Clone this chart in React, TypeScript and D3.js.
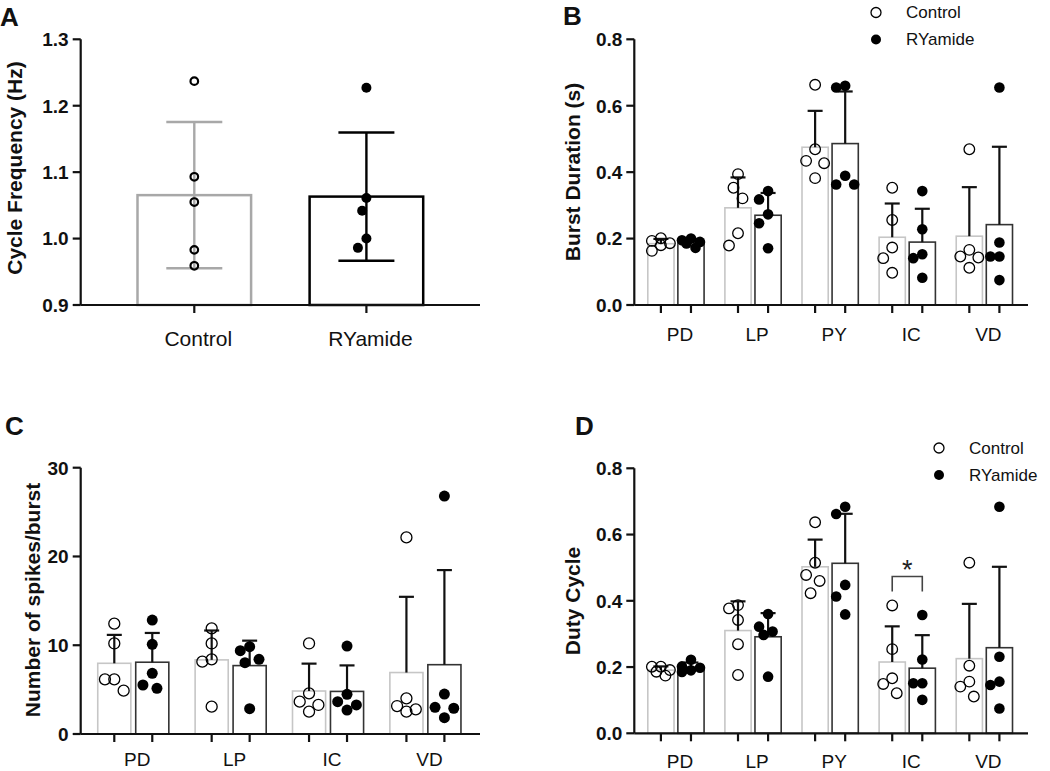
import React from "react";
import * as d3 from "d3";

const FONT = "Arial, 'Liberation Sans', Helvetica, sans-serif";

// A: cycle frequency (Hz)
const freqGroups = ["Control", "RYamide"];
const freqControl = [1.237, 1.093, 1.055, 0.983, 0.959];
const freqRyamide = [1.227, 1.061, 1.042, 1.0, 0.986];
const freqTicks = [0.9, 1.0, 1.1, 1.2, 1.3];

// B: burst duration (s)
const burstNeurons = ["PD", "LP", "PY", "IC", "VD"];
const burstControl = [
  [0.201, 0.193, 0.186, 0.18, 0.163],
  [0.394, 0.353, 0.321, 0.216, 0.179],
  [0.663, 0.469, 0.434, 0.427, 0.382],
  [0.353, 0.256, 0.173, 0.141, 0.097],
  [0.469, 0.166, 0.146, 0.143, 0.112],
];
const burstRyamide = [
  [0.2, 0.195, 0.19, 0.185, 0.172],
  [0.343, 0.318, 0.273, 0.246, 0.171],
  [0.66, 0.655, 0.389, 0.363, 0.363],
  [0.343, 0.228, 0.153, 0.141, 0.082],
  [0.655, 0.188, 0.146, 0.146, 0.075],
];
const burstTicks = [0, 0.2, 0.4, 0.6, 0.8];

// C: spikes per burst
const spikeNeurons = ["PD", "LP", "IC", "VD"];
const spikeControl = [
  [12.43, 10.2, 6.16, 6.16, 4.88],
  [11.9, 10.2, 8.41, 8.15, 3.08],
  [10.2, 4.58, 3.64, 3.27, 2.52],
  [22.15, 4.02, 3.15, 2.78, 2.52],
];
const spikeRyamide = [
  [12.84, 10.1, 6.83, 5.52, 5.14],
  [9.84, 9.39, 8.41, 8.04, 2.85],
  [9.91, 4.47, 3.64, 3.27, 2.7],
  [26.8, 4.5, 3.0, 2.9, 1.84],
];
const spikeTicks = [0, 10, 20, 30];

// D: duty cycle
const dutyNeurons = ["PD", "LP", "PY", "IC", "VD"];
const dutyControl = [
  [0.201, 0.201, 0.191, 0.186, 0.174],
  [0.387, 0.377, 0.342, 0.269, 0.176],
  [0.637, 0.515, 0.478, 0.46, 0.423],
  [0.386, 0.254, 0.166, 0.149, 0.121],
  [0.515, 0.204, 0.156, 0.141, 0.111],
];
const dutyRyamide = [
  [0.222, 0.202, 0.198, 0.19, 0.185],
  [0.36, 0.322, 0.307, 0.297, 0.171],
  [0.684, 0.662, 0.448, 0.413, 0.359],
  [0.357, 0.223, 0.151, 0.151, 0.101],
  [0.684, 0.231, 0.156, 0.146, 0.075],
];
const dutyTicks = [0, 0.2, 0.4, 0.6, 0.8];
const dutySignificant = ["IC"];

const conditions = ["Control", "RYamide"];

// simple beeswarm: spread points that sit too close to each other
function swarm(values: number[], y: (v: number) => number, r: number) {
  const placed: { x: number; y: number }[] = [];
  const out: { dx: number; y: number }[] = new Array(values.length);
  const order = values.map((_, i) => i).sort((a, b) => values[b] - values[a]);
  const dmin = r * 2.6;
  const step = r * 0.85;
  for (const i of order) {
    const py = y(values[i]);
    let best = 0;
    let bestDist = -1;
    for (let k = 0; k <= 4; k++) {
      const dx = k === 0 ? 0 : Math.ceil(k / 2) * step * (k % 2 ? -1 : 1);
      const d = placed.length
        ? d3.min(placed, (p) => Math.hypot(p.x - dx, p.y - py))!
        : Infinity;
      if (d >= dmin) {
        best = dx;
        bestDist = d;
        break;
      }
      if (d > bestDist) {
        bestDist = d;
        best = dx;
      }
    }
    placed.push({ x: best, y: py });
    out[i] = { dx: best, y: py };
  }
  return out;
}

function YAxis({ left, y, ticks, fmt, size }) {
  const [y0, y1] = y.range();
  return (
    <g>
      <line x1={left} x2={left} y1={y0} y2={y1} stroke="#111" strokeWidth={2.2} />
      {ticks.map((t) => (
        <g key={t}>
          <line x1={left - 8} x2={left} y1={y(t)} y2={y(t)} stroke="#111" strokeWidth={2.2} />
          <text
            x={left - 12}
            y={y(t)}
            dy="0.36em"
            textAnchor="end"
            fontSize={size}
            fontWeight="bold"
            fill="#111"
          >
            {fmt(t)}
          </text>
        </g>
      ))}
    </g>
  );
}

function GroupPanel({ left, right, top, bottom, domain, ticks, fmt, groups, control, ryamide, radius, labelGap, significant = [] }) {
  const x = d3.scalePoint().domain(groups).range([left, right]).padding(0.54);
  const step = x.step();
  const inner = d3.scalePoint().domain(conditions).range([-step * 0.195, step * 0.195]);
  const barW = step * 0.34;
  const y = d3.scaleLinear().domain(domain).range([bottom, top]);

  const series = [
    { key: "Control", data: control, barStroke: "#c6c6c6", open: true },
    { key: "RYamide", data: ryamide, barStroke: "#333", open: false },
  ];

  return (
    <g>
      {series.map((s) =>
        groups.map((g, gi) => {
          const vals = s.data[gi];
          const m = d3.mean(vals);
          const sd = d3.deviation(vals);
          const cx = x(g) + inner(s.key);
          const pts = swarm(vals, y, radius);
          return (
            <g key={s.key + g}>
              <rect
                x={cx - barW / 2}
                y={y(m)}
                width={barW}
                height={bottom - y(m)}
                fill="#fff"
                stroke={s.barStroke}
                strokeWidth={1.6}
              />
              <line x1={cx} x2={cx} y1={y(m)} y2={y(m + sd)} stroke="#111" strokeWidth={2.2} />
              <line x1={cx - 7.5} x2={cx + 7.5} y1={y(m + sd)} y2={y(m + sd)} stroke="#111" strokeWidth={2.2} />
              {pts.map((p, i) => (
                <circle
                  key={i}
                  cx={cx + p.dx}
                  cy={p.y}
                  r={radius}
                  fill={s.open ? "none" : "#000"}
                  stroke="#000"
                  strokeWidth={s.open ? 1.3 : 0}
                />
              ))}
            </g>
          );
        })
      )}
      {significant.map((g) => {
        const gi = groups.indexOf(g);
        const hi = d3.max([...control[gi], ...ryamide[gi]]);
        const yt = y(hi) - 29;
        const xa = x(g) + inner("Control");
        const xb = x(g) + inner("RYamide");
        return (
          <g key={"sig" + g}>
            <path
              d={`M${xa},${yt + 15}V${yt}H${xb}V${yt + 15}`}
              fill="none"
              stroke="#444"
              strokeWidth={1.6}
            />
            <text x={(xa + xb) / 2} y={yt + 3} textAnchor="middle" fontSize={27} fill="#222">
              *
            </text>
          </g>
        );
      })}
      <YAxis left={left} y={y} ticks={ticks} fmt={fmt} size={19} />
      <line x1={left} x2={right + 2} y1={bottom} y2={bottom} stroke="#111" strokeWidth={2.2} />
      {groups.map((g) =>
        conditions.map((c) => (
          <line
            key={g + c}
            x1={x(g) + inner(c)}
            x2={x(g) + inner(c)}
            y1={bottom}
            y2={bottom + 8}
            stroke="#111"
            strokeWidth={2.2}
          />
        ))
      )}
      {groups.map((g) => (
        <text key={g} x={x(g) + 4} y={bottom + labelGap} textAnchor="middle" fontSize={19} fill="#111">
          {g}
        </text>
      ))}
    </g>
  );
}

function FreqPanel() {
  const left = 80.7;
  const right = 480;
  const bottom = 305;
  const x = d3.scalePoint().domain(freqGroups).range([left, right]).padding(0.66);
  const barW = x.step() * 0.66;
  const y = d3.scaleLinear().domain([0.9, 1.3]).range([bottom, 39.3]);
  const series = [
    { key: "Control", data: freqControl, color: "#a8a8a8", open: true },
    { key: "RYamide", data: freqRyamide, color: "#000", open: false },
  ];
  return (
    <g>
      {series.map((s) => {
        const m = d3.mean(s.data);
        const sd = d3.deviation(s.data);
        const cx = x(s.key);
        const r = s.open ? 3.8 : 5;
        const pts = swarm(s.data, y, s.open ? 2.4 : 5);
        return (
          <g key={s.key}>
            <rect
              x={cx - barW / 2}
              y={y(m)}
              width={barW}
              height={bottom - y(m)}
              fill="#fff"
              stroke={s.color}
              strokeWidth={2.5}
            />
            <line x1={cx} x2={cx} y1={y(m - sd)} y2={y(m + sd)} stroke={s.color} strokeWidth={2.4} />
            {[m - sd, m + sd].map((v, i) => (
              <line key={i} x1={cx - 28} x2={cx + 28} y1={y(v)} y2={y(v)} stroke={s.color} strokeWidth={2.4} />
            ))}
            {pts.map((p, i) => (
              <circle
                key={i}
                cx={cx + p.dx}
                cy={p.y}
                r={r}
                fill={s.open ? "none" : "#000"}
                stroke="#000"
                strokeWidth={s.open ? 2.2 : 0}
              />
            ))}
          </g>
        );
      })}
      <YAxis left={left} y={y} ticks={freqTicks} fmt={d3.format(".1f")} size={19} />
      <line x1={left} x2={right} y1={bottom} y2={bottom} stroke="#111" strokeWidth={2.2} />
      {freqGroups.map((g) => (
        <g key={g}>
          <line x1={x(g)} x2={x(g)} y1={bottom} y2={bottom + 8} stroke="#111" strokeWidth={2.2} />
          <text x={x(g) + 4} y={bottom + 41} textAnchor="middle" fontSize={21} fill="#111">
            {g}
          </text>
        </g>
      ))}
    </g>
  );
}

function Legend({ x, y }) {
  return (
    <g>
      {conditions.map((c, i) => (
        <g key={c}>
          <circle
            cx={x}
            cy={y + i * 27}
            r={5}
            fill={i === 0 ? "none" : "#000"}
            stroke="#000"
            strokeWidth={i === 0 ? 1.3 : 0}
          />
          <text x={x + 30} y={y + i * 27} dy="0.35em" fontSize={17} fill="#111">
            {c}
          </text>
        </g>
      ))}
    </g>
  );
}

function AxisTitle({ x, y, text }) {
  return (
    <text
      transform={`translate(${x},${y}) rotate(-90)`}
      textAnchor="middle"
      dy="0.35em"
      fontSize={21}
      fontWeight="bold"
      fill="#111"
    >
      {text}
    </text>
  );
}

export default function App() {
  const f1 = d3.format(".1f");
  const f0 = d3.format("d");
  return (
    <svg
      width={1050}
      height={771}
      style={{ position: "absolute", left: 0, top: 0, background: "#fff" }}
      fontFamily={FONT}
    >
      <rect width={1050} height={771} fill="#fff" />
      {[
        ["A", 0, 26],
        ["B", 563, 25],
        ["C", 5, 435],
        ["D", 575, 435],
      ].map(([t, px, py]) => (
        <text key={t as string} x={px as number} y={py as number} fontSize={26} fontWeight="bold" fill="#111">
          {t}
        </text>
      ))}

      <FreqPanel />
      <AxisTitle x={15} y={168} text="Cycle Frequency (Hz)" />

      <GroupPanel
        left={634.3}
        right={1026}
        top={39.3}
        bottom={305}
        domain={[0, 0.8]}
        ticks={burstTicks}
        fmt={f1}
        groups={burstNeurons}
        control={burstControl}
        ryamide={burstRyamide}
        radius={5.3}
        labelGap={36}
      />
      <AxisTitle x={573} y={172} text="Burst Duration (s)" />
      <Legend x={876} y={12.5} />

      <GroupPanel
        left={80.7}
        right={478}
        top={467.7}
        bottom={734}
        domain={[0, 30]}
        ticks={spikeTicks}
        fmt={f0}
        groups={spikeNeurons}
        control={spikeControl}
        ryamide={spikeRyamide}
        radius={5.5}
        labelGap={32}
      />
      <AxisTitle x={33} y={600} text="Number of spikes/burst" />

      <GroupPanel
        left={634.3}
        right={1026}
        top={468.3}
        bottom={733.3}
        domain={[0, 0.8]}
        ticks={dutyTicks}
        fmt={f1}
        groups={dutyNeurons}
        control={dutyControl}
        ryamide={dutyRyamide}
        radius={5.3}
        labelGap={35}
        significant={dutySignificant}
      />
      <AxisTitle x={573} y={601} text="Duty Cycle" />
      <Legend x={939} y={448} />
    </svg>
  );
}
